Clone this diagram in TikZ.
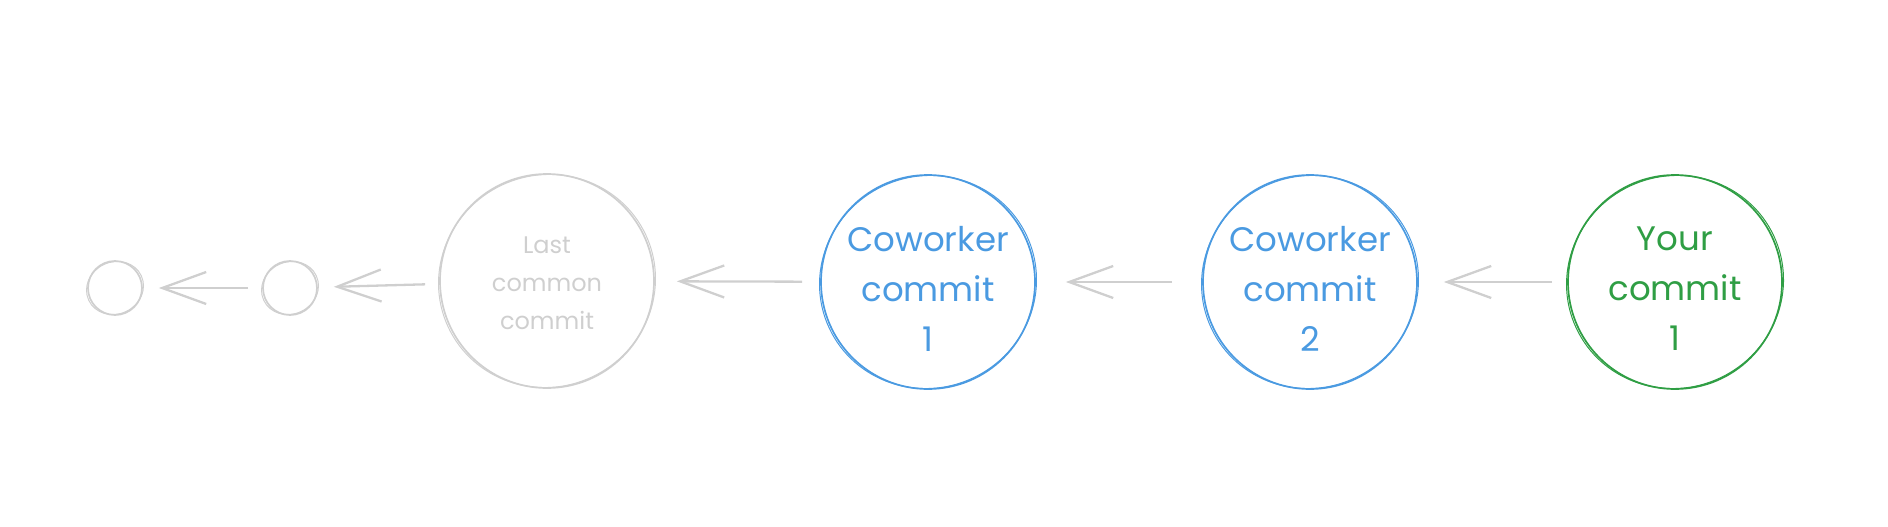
\documentclass[tikz,border=0pt]{standalone}
\usepackage{fontspec}
\setmainfont{Poppins}
\usetikzlibrary{arrows.meta,positioning}

\definecolor{ghost}{HTML}{CFCFCF}
\definecolor{mateblue}{HTML}{4A9AE1}
\definecolor{minegreen}{HTML}{2F9E44}

\begin{document}
\begin{tikzpicture}[
    x=1pt, y=-1pt,
    commit/.style={circle, draw, line width=1.7pt, minimum size=214pt, inner sep=0pt},
    stub/.style={circle, draw=ghost, line width=1.7pt, minimum size=54pt, inner sep=0pt},
    link/.style={draw=ghost, line width=2.3pt, -{Straight Barb[length=44pt, width=32pt, line width=2.3pt]}, shorten >=16pt, shorten <=14pt},
    faded/.style={align=center, text=ghost, font=\fontsize{24}{38}\selectfont},
    loud/.style={align=center, font=\fontsize{34}{50}\selectfont, yshift=-7pt}
]
    % canvas
    \useasboundingbox (0,0) rectangle (1888,527);

    % older history
    \node[stub] (old2) at (115,288) {};
    \node[stub] (old1) at (290,288) {};

    % commits
    \node[commit, draw=ghost, label={[faded, yshift=-2pt]center:Last\\common\\commit}] (base) at (547,281) {};
    \node[commit, draw=mateblue, label={[loud, text=mateblue]center:Coworker\\commit\\1}] (cw1) at (928,282) {};
    \node[commit, draw=mateblue, label={[loud, text=mateblue]center:Coworker\\commit\\2}] (cw2) at (1310,282) {};
    \node[commit, draw=minegreen, label={[loud, text=minegreen]center:Your\\commit\\1}] (mine) at (1675,282) {};

    % second pencil stroke
    \foreach \n/\c/\r in {old2/ghost/27, old1/ghost/27, base/ghost/107, cw1/mateblue/107, cw2/mateblue/107, mine/minegreen/107}
        \draw[\c, line width=1pt, rotate around={25:(\n.center)}] (\n.center) ellipse [x radius=\r+2, y radius=\r-1];

    % parent links
    \draw[link] (old1) -- (old2);
    \draw[link] (base) -- (old1);
    \draw[link, shorten >=22pt, shorten <=18pt] (cw1) -- (base);
    \draw[link, shorten >=30pt, shorten <=30pt] (cw2) -- (cw1);
    \draw[link, shorten >=26pt, shorten <=15pt] (mine) -- (cw2);
\end{tikzpicture}
\end{document}
